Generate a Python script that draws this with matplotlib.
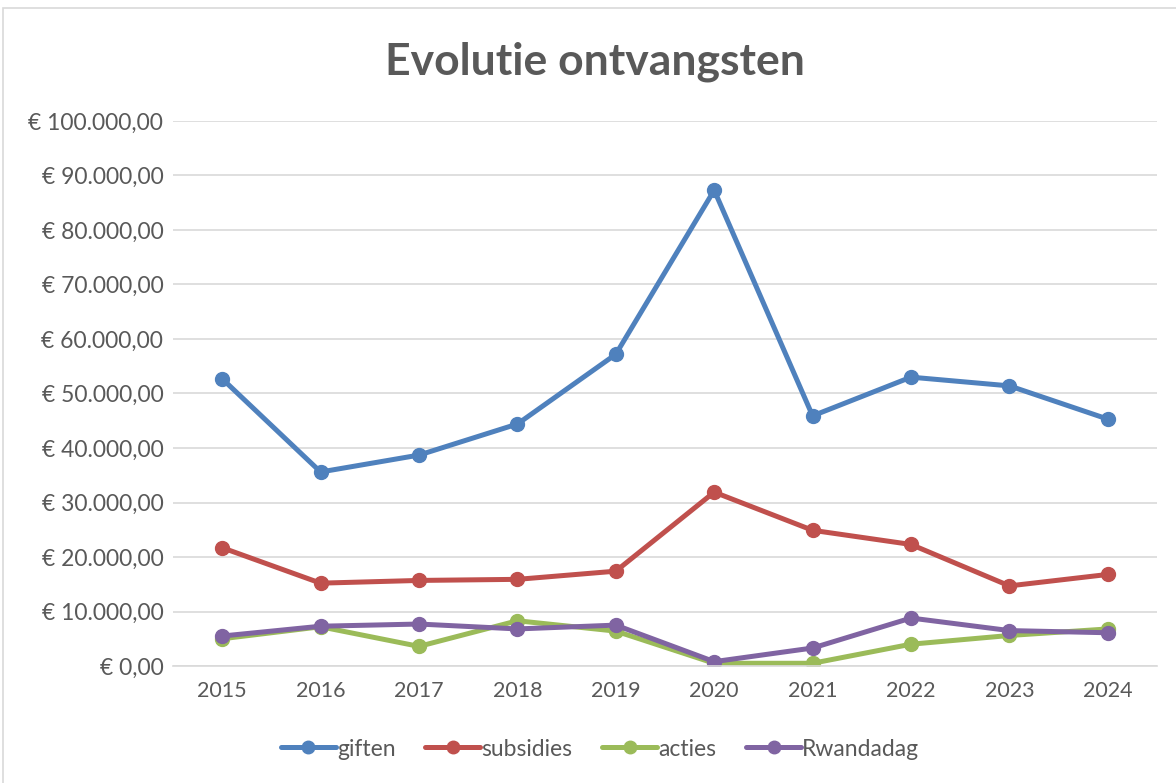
import matplotlib
matplotlib.use("Agg")
import matplotlib.pyplot as plt
from matplotlib.patches import Rectangle
from matplotlib.ticker import FuncFormatter

plt.rcParams['font.family'] = ['Lato', 'DejaVu Sans']

years = ["2015", "2016", "2017", "2018", "2019", "2020", "2021", "2022", "2023", "2024"]
giften = [52700, 35600, 38700, 44400, 57200, 87300, 45900, 53000, 51400, 45300]
subsidies = [21700, 15200, 15700, 15900, 17400, 31900, 24900, 22300, 14700, 16800]
acties = [5000, 7200, 3600, 8300, 6400, 500, 500, 4000, 5600, 6800]
rwandadag = [5500, 7300, 7700, 6800, 7500, 800, 3300, 8800, 6500, 6100]

series = [("giften", giften, "#4F81BD"),
          ("subsidies", subsidies, "#C0504D"),
          ("acties", acties, "#9BBB59"),
          ("Rwandadag", rwandadag, "#8064A2")]

text_color = "#595959"

fig = plt.figure(figsize=(11.76, 7.83), dpi=100)
ax = fig.add_axes([173 / 1176, 1 - 666 / 783, (1157 - 173) / 1176, (666 - 121) / 783])

# chart border
fig.patches.append(Rectangle((3 / 1176, -0.01), 1.0, 1 - 8 / 783 + 0.01,
                             transform=fig.transFigure, fill=False,
                             edgecolor="#D9D9D9", linewidth=1.2))

x = list(range(len(years)))
for name, vals, col in series:
    ax.plot(x, vals, color=col, linewidth=3.6, marker='o', markersize=10,
            label=name, solid_capstyle='round', solid_joinstyle='round')

ax.set_xlim(-0.5, len(years) - 0.5)
ax.set_ylim(0, 100000)
ax.set_yticks(range(0, 100001, 10000))
ax.set_xticks(x)
ax.set_xticklabels(years)


def euro(v, pos):
    s = f"{v:,.2f}".replace(",", "X").replace(".", ",").replace("X", ".")
    return "€ " + s


ax.yaxis.set_major_formatter(FuncFormatter(euro))
ax.grid(axis='y', color="#D9D9D9", linewidth=1.2)
ax.set_axisbelow(True)
for s in ["top", "right", "left"]:
    ax.spines[s].set_visible(False)
ax.spines["bottom"].set_color("#D9D9D9")
ax.spines["bottom"].set_linewidth(1.2)
ax.tick_params(axis='both', length=0, labelcolor=text_color)
ax.tick_params(axis='x', pad=11, labelsize=15.5)
ax.tick_params(axis='y', pad=7, labelsize=16.5)

fig.text(0.506, 1 - 62 / 783, "Evolutie ontvangsten", ha='center', va='center',
         fontsize=32, fontweight='bold', color=text_color)

leg = fig.legend(loc='center', bbox_to_anchor=(600 / 1176, 1 - 749 / 783), ncol=4,
                 frameon=False, fontsize=16.5, handlelength=2.4,
                 columnspacing=1.3, handletextpad=0.05, markerscale=0.9)
for t in leg.get_texts():
    t.set_color(text_color)

fig.savefig("out.png", dpi=100)
